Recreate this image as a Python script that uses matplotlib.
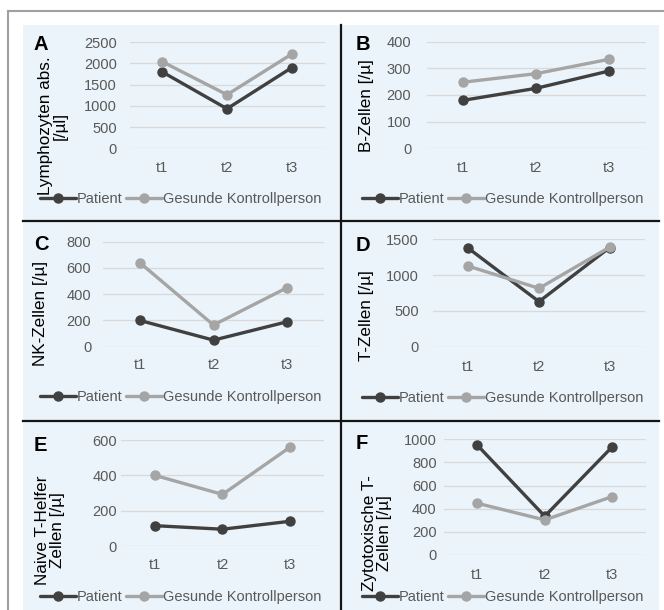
import matplotlib
matplotlib.use("Agg")
import matplotlib.pyplot as plt
from matplotlib.lines import Line2D
from matplotlib.patches import Rectangle

plt.rcParams['font.family'] = ['Liberation Sans', 'DejaVu Sans']

# ---------------- data ----------------
categories = ['t1', 't2', 't3']
series_names = ['Patient', 'Gesunde Kontrollperson']

A_patient = [1800, 930, 1900]
A_control = [2040, 1260, 2220]
B_patient = [180, 225, 290]
B_control = [248, 280, 334]
C_patient = [200, 50, 190]
C_control = [640, 165, 450]
D_patient = [1375, 630, 1385]
D_control = [1125, 815, 1390]
E_patient = [115, 95, 140]
E_control = [400, 292, 560]
F_patient = [950, 335, 935]
F_control = [447, 303, 505]

A_ticks = [0, 500, 1000, 1500, 2000, 2500]
B_ticks = [0, 100, 200, 300, 400]
C_ticks = [0, 200, 400, 600, 800]
D_ticks = [0, 500, 1000, 1500]
E_ticks = [0, 200, 400, 600]
F_ticks = [0, 200, 400, 600, 800, 1000]

panel_letters = ['A', 'B', 'C', 'D', 'E', 'F']
y_labels = ['Lymphozyten abs.\n[/µl]', 'B-Zellen [/µ]', 'NK-Zellen [/µ]',
            'T-Zellen [/µ]', 'Naive T-Helfer\nZellen [/µ]', 'Zytotoxische T-\nZellen [/µ]']

# ---------------- layout (pixels) ----------------
W, H = 664, 610
fig = plt.figure(figsize=(W / 100, H / 100), dpi=100)

def fx(x):
    return x / W

def fy(y):
    return 1 - y / H

def rect(l, t, r, b):
    return [l / W, 1 - b / H, (r - l) / W, (b - t) / H]

# background and frame
bg = Rectangle((fx(23), 0), fx(659) - fx(23), fy(25), transform=fig.transFigure,
               facecolor='#EBF4FA', edgecolor='none', zorder=-10)
fig.patches.append(bg)
frame_lines = [
    Line2D([fx(8), fx(8)], [fy(11), 0], color='#A0A0A0', lw=1.5),
    Line2D([fx(8), 1], [fy(11), fy(11)], color='#A0A0A0', lw=1.5),
    Line2D([fx(341), fx(341)], [fy(25), 0], color='#151515', lw=1.6),
    Line2D([fx(23), fx(659)], [fy(221), fy(221)], color='#151515', lw=1.6),
    Line2D([fx(23), fx(659)], [fy(421), fy(421)], color='#151515', lw=1.6),
]
for ln in frame_lines:
    ln.set_transform(fig.transFigure)
    ln.set_zorder(-5)
    fig.lines.append(ln)

patient_color = '#404040'
control_color = '#A5A5A5'
text_gray = '#595959'

panels = [
    dict(p=A_patient, c=A_control, ticks=A_ticks, box=(129.5, 42, 324.5, 148.3), ypad=9, xpad=9,
         letter=(33, 35), ylab=(53, 126), leg=(40, 199)),
    dict(p=B_patient, c=B_control, ticks=B_ticks, box=(426.5, 41.7, 645.5, 148.3), ypad=11, xpad=9,
         letter=(356, 35), ylab=(366, 106), leg=(362, 199)),
    dict(p=C_patient, c=C_control, ticks=C_ticks, box=(103, 241.7, 324, 346.7), ypad=8.5, xpad=8,
         letter=(34, 235), ylab=(40, 313), leg=(40, 397)),
    dict(p=D_patient, c=D_control, ticks=D_ticks, box=(433, 239.3, 645, 346.7), ypad=10, xpad=9.5,
         letter=(356, 236), ylab=(367, 316), leg=(362, 398)),
    dict(p=E_patient, c=E_control, ticks=E_ticks, box=(121, 440, 324, 546), ypad=3, xpad=8.7,
         letter=(34, 436), ylab=(50, 530), leg=(40, 597)),
    dict(p=F_patient, c=F_control, ticks=F_ticks, box=(443.5, 439.3, 646, 555), ypad=5, xpad=9.4,
         letter=(356, 434), ylab=(377, 533), leg=(362, 597)),
]

fs = 10.5
for i, pn in enumerate(panels):
    ax = fig.add_axes(rect(*pn['box']))
    ax.set_facecolor('none')
    ax.set_zorder(1)
    xs = list(range(len(categories)))
    lp, = ax.plot(xs, pn['p'], color=patient_color, lw=2.4, marker='o', ms=6.5,
                  solid_capstyle='round', zorder=3, clip_on=False)
    lc, = ax.plot(xs, pn['c'], color=control_color, lw=2.4, marker='o', ms=6.5,
                  solid_capstyle='round', zorder=4, clip_on=False)
    ax.set_xlim(-0.5, len(categories) - 0.5)
    ax.set_ylim(pn['ticks'][0], pn['ticks'][-1])
    ax.set_xticks(xs)
    ax.set_xticklabels(categories)
    ax.set_yticks(pn['ticks'])
    ax.set_yticklabels([str(t) for t in pn['ticks']])
    ax.grid(axis='y', color='#D9D9D9', lw=0.9, zorder=0)
    ax.set_axisbelow(True)
    for s in ax.spines.values():
        s.set_visible(False)
    ax.tick_params(axis='both', length=0, labelsize=fs, labelcolor=text_gray)
    ax.tick_params(axis='y', pad=pn['ypad'])
    ax.tick_params(axis='x', pad=pn['xpad'])

    ax.set_ylabel(y_labels[i], fontsize=12.3, color='black', ha='center', va='center',
                  multialignment='center', linespacing=1.0)
    ax.yaxis.set_label_coords(fx(pn['ylab'][0]), fy(pn['ylab'][1]), transform=fig.transFigure)

    ax.legend([lp, lc], series_names, loc='center left',
              bbox_to_anchor=(fx(pn['leg'][0]), fy(pn['leg'][1])), bbox_transform=fig.transFigure,
              ncol=2, frameon=False, borderpad=0, borderaxespad=0, handlelength=2.5,
              handletextpad=0.05, columnspacing=0.2, numpoints=1, fontsize=fs,
              labelcolor=text_gray)

for i, pn in enumerate(panels):
    fig.text(fx(pn['letter'][0]), fy(pn['letter'][1]), panel_letters[i], fontsize=14.5,
             fontweight='bold', color='black', ha='left', va='top', zorder=5)

fig.savefig('out.png', dpi=100, facecolor='white')
